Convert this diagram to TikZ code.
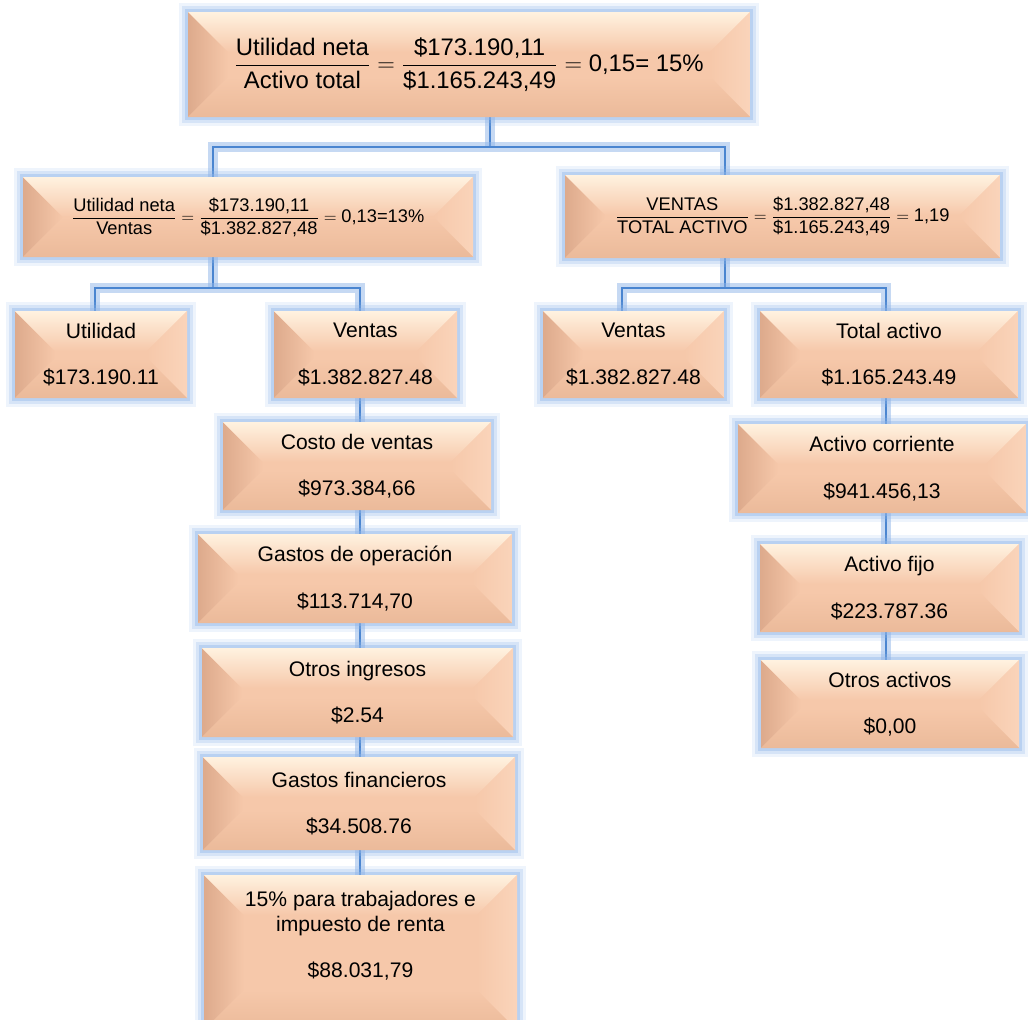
\documentclass[tikz,border=0pt]{standalone}
\usepackage{amsmath}
\usepackage{fontspec}
\setmainfont{Liberation Sans}
\usepackage{tikz}
\usetikzlibrary{calc,backgrounds}

\definecolor{bvbase}{HTML}{F6C8AA}
\definecolor{bvdark}{HTML}{DDAA8C}
\definecolor{bvlight}{HTML}{FFF2E0}
\definecolor{bvright}{HTML}{FAD4BA}
\definecolor{bvbottom}{HTML}{EBBA9A}
\definecolor{glowblue}{HTML}{8EB4E8}
\definecolor{lnblue}{HTML}{4A85D0}
\newcommand{\bvd}{1cm}

\begin{document}
\begin{tikzpicture}[
  x=0.025cm, y=-0.025cm,
  sz/.style 2 args={minimum width=#1*0.025cm, minimum height=#2*0.025cm},
  box/.style={inner sep=0pt, align=center, fill=bvbase,
    font=\fontsize{15}{18}\selectfont,
    preaction={draw=glowblue, line width=13pt, opacity=0.15},
    preaction={draw=glowblue, line width=8pt, opacity=0.25},
    preaction={draw=glowblue, line width=4pt, opacity=0.4},
    path picture={
      \path (path picture bounding box.south west) coordinate (sw)
            (path picture bounding box.north east) coordinate (ne)
            (sw |- ne) coordinate (nw) (sw -| ne) coordinate (se);
      \shade[left color=bvdark, right color=bvbase]
        (sw) -- (nw) -- ([shift={(\bvd,-\bvd)}]nw) -- ([shift={(\bvd,\bvd)}]sw) -- cycle;
      \shade[top color=bvlight, bottom color=bvbase]
        (nw) -- (ne) -- ([shift={(-\bvd,-\bvd)}]ne) -- ([shift={(\bvd,-\bvd)}]nw) -- cycle;
      \shade[left color=bvbase, right color=bvright]
        (ne) -- (se) -- ([shift={(-\bvd,\bvd)}]se) -- ([shift={(-\bvd,-\bvd)}]ne) -- cycle;
      \shade[top color=bvbase, bottom color=bvbottom]
        (sw) -- (se) -- ([shift={(-\bvd,\bvd)}]se) -- ([shift={(\bvd,\bvd)}]sw) -- cycle;
    }},
  ratio/.style={box, font=\fontsize{13}{15.6}\selectfont},
  link/.style={draw=lnblue, line width=2pt,
    preaction={draw=glowblue, line width=7pt, opacity=0.5}}
]
\clip (0,0) rectangle (1028,1020);

\node[ratio, sz={562}{105}, font=\fontsize{17}{20.4}\selectfont] (total) at (469,64.5)
  {$\dfrac{\text{Utilidad neta}}{\text{Activo total}}=\dfrac{\text{\$173.190,11}}{\text{\$1.165.243,49}}=\text{0,15= 15\%}$};
\node[ratio, sz={450}{80}] (margen) at (248,217)
  {$\dfrac{\text{Utilidad neta}}{\text{Ventas}}=\dfrac{\text{\$173.190,11}}{\text{\$1.382.827,48}}=\text{0,13=13\%}$};
\node[ratio, sz={435}{83}] (rotacion) at (782.5,216.5)
  {$\dfrac{\text{VENTAS}}{\text{TOTAL ACTIVO}}=\dfrac{\text{\$1.382.827,48}}{\text{\$1.165.243,49}}=\text{1,19}$};

\node[box, sz={172}{87}] (utilidad) at (101,354.5) {Utilidad\\[15pt]\$173.190.11};
\node[box, sz={183}{87}] (ventas) at (365.5,354.5) {Ventas\\[15pt]\$1.382.827.48};
\node[box, sz={181}{87}] (ventasb) at (633.5,354.5) {Ventas\\[15pt]\$1.382.827.48};
\node[box, sz={258}{87}] (activo) at (889,354.5) {Total activo\\[15pt]\$1.165.243.49};

\node[box, sz={268}{88}] (costo) at (357,466) {Costo de ventas\\[15pt]\$973.384,66};
\node[box, sz={314}{89}] (gastos) at (355,578.5) {Gastos de operación\\[15pt]\$113.714,70};
\node[box, sz={311}{89}] (ingresos) at (357.5,692.5) {Otros ingresos\\[15pt]\$2.54};
\node[box, sz={312}{93}] (financieros) at (359,803.5) {Gastos financieros\\[15pt]\$34.508.76};
\node[box, sz={313}{155}] (trabajadores) at (360.5,952.5)
  {15\% para trabajadores e\\impuesto de renta\\[15pt]\$88.031,79\\[8pt]~};

\node[box, sz={288}{89}] (corriente) at (882,468.5) {Activo corriente\\[15pt]\$941.456,13};
\node[box, sz={259}{88}] (fijo) at (889.5,588) {Activo fijo\\[15pt]\$223.787.36};
\node[box, sz={258}{88}] (otros) at (890,704) {Otros activos\\[15pt]\$0,00};

\begin{scope}[on background layer]
  \coordinate (t0) at (490,147);
  \coordinate (ta) at (213,147);
  \coordinate (tb) at (725,147);
  \coordinate (ma) at (213,288);
  \coordinate (mu) at (95,288);
  \coordinate (mv) at (360,288);
  \coordinate (ra) at (725,288);
  \coordinate (rv) at (622,288);
  \coordinate (rt) at (886,288);
  \draw[link] (total.south -| t0) -- (t0);
  \draw[link] (ta |- margen.north) -- (ta) -- (tb) -- (tb |- rotacion.north);
  \draw[link] (margen.south -| ma) -- (ma);
  \draw[link] (mu |- utilidad.north) -- (mu) -- (mv) -- (mv |- ventas.north);
  \draw[link] (mv |- ventas.south) -- (mv |- trabajadores.north);
  \draw[link] (rotacion.south -| ra) -- (ra);
  \draw[link] (rv |- ventasb.north) -- (rv) -- (rt) -- (rt |- activo.north);
  \draw[link] (rt |- activo.south) -- (rt |- otros.north);
\end{scope}
\end{tikzpicture}
\end{document}
